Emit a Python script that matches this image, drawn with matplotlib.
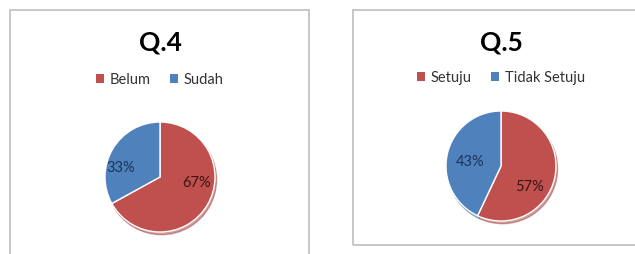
import matplotlib
matplotlib.use("Agg")
import matplotlib.pyplot as plt
from matplotlib.patches import Rectangle

plt.rcParams['font.family'] = ['Lato', 'DejaVu Sans']

# Data
titles = ["Q.4", "Q.5"]
labels_q4 = ["Belum", "Sudah"]
values_q4 = [67, 33]
labels_q5 = ["Setuju", "Tidak Setuju"]
values_q5 = [57, 43]

colors = ["#C0504D", "#4F81BD"]
label_colors = ["#3a1414", "#1c3557"]

W, H = 635, 254
fig = plt.figure(figsize=(W / 100, H / 100), dpi=100)
fig.patch.set_facecolor("white")

def px_rect(x0, y0, x1, y1):
    # pixel box (top-left origin) -> figure fraction [l, b, w, h]
    return [x0 / W, (H - y1) / H, (x1 - x0) / W, (y1 - y0) / H]

# chart frames
for (x0, y0, x1, y1) in [(10, 10, 309, 262), (353, 10, 645, 245)]:
    l, b, w, h = px_rect(x0, y0, x1, y1)
    fig.patches.append(Rectangle((l, b), w, h, transform=fig.transFigure,
                                 fill=False, edgecolor="#bdbdbd", lw=1.2))

panels = [
    dict(title=titles[0], labels=labels_q4, values=values_q4,
         cx=160, cy=177, r=55, ty=42, ly=80,
         lab_pos=[(0.67, -0.11), (-0.72, 0.16)]),
    dict(title=titles[1], labels=labels_q5, values=values_q5,
         cx=501, cy=166, r=55, ty=42, ly=78,
         lab_pos=[(0.51, -0.38), (-0.57, 0.07)]),
]

for p in panels:
    cx, cy, r = p["cx"], p["cy"], p["r"]
    ax = fig.add_axes(px_rect(cx - r, cy - r, cx + r, cy + r))
    ax.pie(p["values"], colors=colors, startangle=90, counterclock=False,
           radius=1, wedgeprops=dict(edgecolor="white", linewidth=1.0),
           shadow=dict(ox=0.02, oy=-0.035, shade=0.15))
    ax.set_xlim(-1.0, 1.0)
    ax.set_ylim(-1.0, 1.0)
    ax.set_aspect("equal")
    ax.axis("off")
    for v, (lx, ly), c in zip(p["values"], p["lab_pos"], label_colors):
        ax.text(lx, ly, f"{v}%", ha="center", va="center", fontsize=10.5, color=c)

    fig.text(cx / W, 1 - p["ty"] / H, p["title"], ha="center", va="center",
             fontsize=19, fontweight="bold", color="black")

    handles = [Rectangle((0, 0), 1, 1, facecolor=c, edgecolor="none") for c in colors]
    fig.legend(handles, p["labels"], loc="center", bbox_to_anchor=(cx / W, 1 - p["ly"] / H),
               ncol=2, frameon=False, fontsize=10.5, handlelength=0.55, handleheight=0.55,
               handletextpad=0.4, columnspacing=1.3, labelcolor="#333333")

fig.savefig("out.png", dpi=100, facecolor="white")
